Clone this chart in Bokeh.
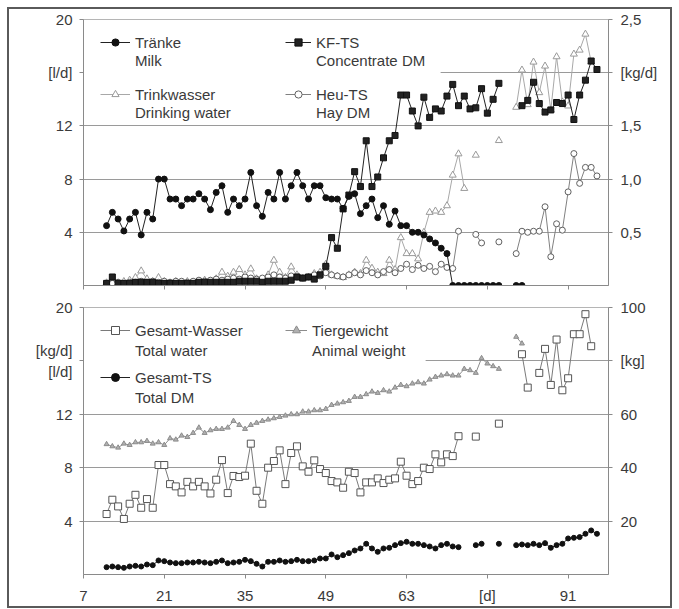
import numpy as np
from bokeh.plotting import figure
from bokeh.models import Range1d, LinearAxis, FixedTicker, Legend, LegendItem, BoxAnnotation
from bokeh.layouts import column
from bokeh.embed import file_html
from bokeh.resources import INLINE

N = None
days = list(range(11, 97))

# ---- top panel ----
traenke = [4.5, 5.5, 5.0, 4.1, 5.0, 5.5, 3.8, 5.5, 5.0, 8.0,
           8.0, 6.5, 6.5, 6.0, 6.5, 6.5, 6.9, 6.5, 5.7, 7.0,
           7.5, 5.5, 6.5, 6.0, 6.5, 8.5, 6.0, 5.2, 7.0, 6.5,
           8.5, 6.5, 7.5, 8.5, 7.5, 6.5, 7.5, 7.5, 6.6, 6.5,
           6.5, 5.8, 6.7, 6.9, 5.4, 6.0, 6.5, 5.1, 6.0, 4.6,
           5.6, 4.5, 4.5, 4.0, 4.0, 3.8, 3.5, 3.2, 2.8, 2.4,
           0, 0, 0, 0, 0, 0, 0, 0, 0, N,
           N, 0, 0, N, N, N, N, N, N, N,
           N, N, N, N, N, N]
kf_ts = [0.02, 0.08, 0.02, 0.02, 0.02, 0.03, 0.03, 0.03, 0.03, 0.02,
         0.02, 0.02, 0.02, 0.02, 0.02, 0.02, 0.03, 0.03, 0.03, 0.03,
         0.03, 0.03, 0.03, 0.04, 0.04, 0.04, 0.04, 0.03, 0.04, 0.04,
         0.04, 0.04, 0.05, 0.08, 0.07, 0.08, 0.06, 0.10, 0.18, 0.45,
         0.35, 0.72, 0.85, 1.07, 0.93, 1.36, 0.93, 1.02, 1.20, 1.36,
         1.41, 1.79, 1.79, 1.64, 1.50, 1.77, 1.58, 1.66, 1.64, 1.78,
         1.89, 1.69, 1.78, 1.66, 1.67, 1.85, 1.62, 1.75, 1.90, N,
         N, N, 1.69, 1.74, 1.91, 1.71, 1.63, 1.65, 1.72, 1.71,
         1.79, 1.56, 1.79, 1.93, 2.11, 2.03]
trinkwasser = [0.2, 0.3, 0.2, 0.3, 0.4, 0.6, 1.1, 0.5, 0.3, 0.6,
               0.3, 0.2, 0.3, 0.2, 0.3, 0.2, 0.3, 0.4, 0.3, 0.5,
               1.0, 0.7, 1.0, 1.2, 0.8, 1.25, 0.5, 0.4, 0.8, 1.9,
               1.0, 0.6, 1.4, 0.8, 0.5, 0.6, 0.9, 1.0, 1.6, 0.8,
               0.7, 0.6, 0.8, 1.0, 0.9, 1.9, 1.3, 1.0, 0.9, 1.9,
               1.2, 3.6, 2.4, 2.4, 2.0, 4.0, 5.5, 5.6, 5.5, 6.0,
               8.3, 9.9, 7.3, N, 9.8, N, N, N, 10.9, N,
               N, 13.4, 16.2, 13.6, 16.8, 14.5, 16.5, 13.2, 17.2, 13.8,
               13.5, 17.4, 17.7, 18.9, 16.8, N]
heu_ts = [0.02, 0.02, 0.03, 0.02, 0.03, 0.03, 0.04, 0.03, 0.04, 0.03,
          0.04, 0.03, 0.04, 0.04, 0.03, 0.04, 0.05, 0.04, 0.05, 0.06,
          0.05, 0.06, 0.07, 0.06, 0.08, 0.07, 0.06, 0.07, 0.08, 0.10,
          0.08, 0.07, 0.09, 0.08, 0.07, 0.08, 0.10, 0.09, 0.12, 0.10,
          0.09, 0.08, 0.10, 0.12, 0.10, 0.14, 0.12, 0.10, 0.13, 0.15,
          0.12, 0.16, 0.20, 0.15, 0.19, 0.16, 0.18, 0.13, 0.20, 0.17,
          0.16, 0.51, N, N, 0.48, 0.40, N, N, 0.41, N,
          N, 0.30, 0.51, 0.50, 0.51, 0.51, 0.74, 0.27, 0.58, 0.52,
          0.88, 1.24, 0.96, 1.11, 1.11, 1.03]

# ---- bottom panel ----
gesamt_wasser = [4.53, 5.6, 5.1, 4.16, 5.3, 5.97, 5.0, 5.65, 5.0, 8.2,
                 8.2, 6.77, 6.6, 6.15, 6.94, 6.6, 6.94, 6.6, 6.07, 7.1,
                 8.57, 6.1, 7.38, 7.3, 7.4, 9.8, 6.27, 5.3, 8.0, 8.5,
                 9.3, 6.77, 9.1, 9.6, 8.1, 7.7, 8.55, 7.9, 7.6, 7.0,
                 6.9, 6.5, 7.7, 7.6, 6.15, 6.9, 6.9, 7.2, 6.85, 7.1,
                 7.2, 8.45, 7.4, 6.77, 7.0, 8.0, 7.9, 9.0, 8.4, 9.0,
                 8.87, 10.36, N, N, 10.33, N, N, N, 11.3, N,
                 N, N, 16.5, 14.0, N, 15.1, 16.9, 14.2, 17.6, 13.8,
                 14.7, 18.0, 18.0, 19.5, 17.1, N]
tiergewicht = [48.8, 48.0, 47.5, 49.0, 48.5, 49.5, 49.5, 50.0, 49.0, 49.5,
               48.5, 51.0, 50.5, 52.0, 51.5, 53.0, 55.0, 53.0, 54.0, 54.5,
               54.5, 55.0, 57.5, 56.0, 54.5, 56.0, 56.8, 57.5, 58.0, 58.5,
               59.0, 59.5, 60.0, 60.0, 61.0, 61.0, 61.5, 61.5, 62.0, 63.5,
               64.0, 64.5, 65.0, 66.5, 66.5, 67.5, 68.5, 68.0, 69.0, 68.5,
               70.0, 71.0, 70.5, 71.5, 72.0, 71.5, 73.0, 74.0, 74.5, 75.0,
               74.5, 74.5, 77.0, 76.5, 75.5, 81.0, 79.0, 78.0, 77.0, N,
               N, 89.0, 86.5, N, N, N, N, N, N, N,
               N, N, N, N, N, N]
gesamt_ts = [0.55, 0.6, 0.55, 0.5, 0.6, 0.65, 0.6, 0.75, 0.7, 1.05,
             1.0, 0.9, 0.85, 0.85, 0.9, 0.9, 0.95, 0.9, 0.85, 0.95,
             1.05, 0.85, 0.9, 0.95, 1.1, 1.0, 0.8, 0.6, 0.95, 0.95,
             1.05, 0.95, 1.0, 1.1, 1.0, 1.0, 1.05, 1.2, 1.2, 1.5,
             1.3, 1.45, 1.6, 1.8, 1.95, 2.3, 1.95, 1.7, 1.95, 2.0,
             2.2, 2.35, 2.45, 2.3, 2.3, 2.2, 2.1, 1.95, 2.2, 2.3,
             2.1, 2.05, N, N, 2.2, 2.3, N, N, 2.3, N,
             N, 2.2, 2.25, 2.2, 2.3, 2.2, 2.35, 2.0, 2.2, 2.3,
             2.7, 2.75, 2.8, 3.05, 3.3, 3.05]

x_ticks = [7, 21, 35, 49, 63, 77, 91]
x_labels = {77: "[d]"}
top_left_ticks = [4, 8, 12, 16, 20]
top_left_labels = {16: "[l/d]"}
top_right_ticks = [0.5, 1.0, 1.5, 2.0, 2.5]
top_right_labels = {0.5: "0,5", 1.0: "1,0", 1.5: "1,5", 2.0: "[kg/d]", 2.5: "2,5"}
bot_left_labels = {16: "[kg/d]\n[l/d]"}
bot_right_ticks = [20, 40, 60, 80, 100]
bot_right_labels = {80: "[kg]"}


def arr(v):
    return np.array([np.nan if x is None else x for x in v], dtype=float)


FONT = "Liberation Sans"
TXT = "#3a3a3a"
AX = "#8a8a8a"


def style_axis(ax):
    ax.axis_line_color = AX
    ax.major_tick_line_color = AX
    ax.minor_tick_line_color = None
    ax.major_tick_in = 0
    ax.major_tick_out = 4
    ax.major_label_text_font = FONT
    ax.major_label_text_font_size = "15px"
    ax.major_label_text_color = TXT


def make_fig(height, mb_top, mb_bottom, right_range):
    p = figure(width=661, height=height, x_range=Range1d(7, 98), y_range=Range1d(0, 20),
               output_backend="svg", toolbar_location=None,
               min_border_left=74, min_border_right=62,
               min_border_top=mb_top, min_border_bottom=mb_bottom)
    p.extra_y_ranges = {"r": right_range}
    p.add_layout(LinearAxis(y_range_name="r"), "right")
    p.xgrid.grid_line_color = None
    p.ygrid.ticker = FixedTicker(ticks=[4, 8, 12, 16])
    p.ygrid.grid_line_color = "#9a9a9a"
    p.outline_line_color = "#b5b5b5"
    p.xaxis.ticker = FixedTicker(ticks=x_ticks)
    p.xaxis.major_label_overrides = x_labels
    for ax in p.xaxis + p.yaxis:
        style_axis(ax)
    p.xaxis.major_label_standoff = 8
    p.yaxis[0].major_label_standoff = 7
    p.yaxis[1].major_label_standoff = 8
    return p


def entry(glyph_label, second_line, renderers, loc, pitch, gw):
    lg = Legend(items=[LegendItem(label=glyph_label, renderers=renderers),
                       LegendItem(label=second_line, renderers=[])], location=loc)
    lg.label_text_font = FONT
    lg.label_text_font_size = "15px"
    lg.label_text_color = TXT
    lg.glyph_width = gw
    lg.glyph_height = pitch
    lg.label_height = pitch
    lg.label_standoff = 5
    lg.spacing = 0
    lg.padding = 0
    lg.margin = 0
    lg.border_line_color = None
    lg.background_fill_alpha = 0
    return lg


# ---------------- top ----------------
p1 = make_fig(288, 10, 12, Range1d(0, 2.5))
p1.xaxis.major_label_overrides = {t: "" for t in x_ticks}
p1.xaxis.major_label_standoff = 0
p1.yaxis[0].ticker = FixedTicker(ticks=top_left_ticks)
p1.yaxis[0].major_label_overrides = top_left_labels
p1.yaxis[1].ticker = FixedTicker(ticks=top_right_ticks)
p1.yaxis[1].major_label_overrides = top_right_labels

l_tw = p1.line(days, arr(trinkwasser), line_color="#a8a8a8", line_width=1)
s_tw = p1.scatter(days, arr(trinkwasser), marker="triangle", size=7, fill_color="white",
                  line_color="#9a9a9a")
l_heu = p1.line(days, arr(heu_ts), y_range_name="r", line_color="#808080", line_width=1)
s_heu = p1.scatter(days, arr(heu_ts), y_range_name="r", marker="circle", size=6,
                   fill_color="white", line_color="#606060")
l_kf = p1.line(days, arr(kf_ts), y_range_name="r", line_color="#222222", line_width=1)
s_kf = p1.scatter(days, arr(kf_ts), y_range_name="r", marker="square", size=6,
                  fill_color="#222222", line_color="#111111")
l_tr = p1.line(days, arr(traenke), line_color="#222222", line_width=1)
s_tr = p1.scatter(days, arr(traenke), marker="circle", size=6, fill_color="#111111",
                  line_color="#111111")

# white panel behind the legend hides the 16-gridline there, as in the original
p1.add_layout(BoxAnnotation(left=7.05, right=68.9, bottom=15.3, top=19.95, level="underlay",
                            fill_color="white", fill_alpha=1, line_color=None))
p1.add_layout(entry("Tränke", "Milk", [l_tr, s_tr], (17, 216), 18, 30), "center")
p1.add_layout(entry("Trinkwasser", "Drinking water", [l_tw, s_tw], (17, 164), 18, 30), "center")
p1.add_layout(entry("KF-TS", "Concentrate DM", [l_kf, s_kf], (202, 216), 18, 26), "center")
p1.add_layout(entry("Heu-TS", "Hay DM", [l_heu, s_heu], (202, 164), 18, 26), "center")

# ---------------- bottom ----------------
p2 = make_fig(309, 10, 30, Range1d(0, 100))
p2.yaxis[0].ticker = FixedTicker(ticks=top_left_ticks)
p2.yaxis[0].major_label_overrides = bot_left_labels
p2.yaxis[1].ticker = FixedTicker(ticks=bot_right_ticks)
p2.yaxis[1].major_label_overrides = bot_right_labels

l_tg = p2.line(days, arr(tiergewicht), y_range_name="r", line_color="#8c8c8c", line_width=1)
s_tg = p2.scatter(days, arr(tiergewicht), y_range_name="r", marker="triangle", size=5,
                  fill_color="#b0b0b0", line_color="#8c8c8c")
l_gw = p2.line(days, arr(gesamt_wasser), line_color="#7a7a7a", line_width=1)
s_gw = p2.scatter(days, arr(gesamt_wasser), marker="square", size=7, fill_color="white",
                  line_color="#555555")
l_gt = p2.line(days, arr(gesamt_ts), line_color="#222222", line_width=1)
s_gt = p2.scatter(days, arr(gesamt_ts), marker="circle", size=5, fill_color="#111111",
                  line_color="#111111")

p2.add_layout(BoxAnnotation(left=7.05, right=66.3, bottom=15, top=19.95, level="underlay",
                            fill_color="white", fill_alpha=1, line_color=None))
p2.add_layout(entry("Gesamt-Wasser", "Total water", [l_gw, s_gw], (17, 214), 20, 30), "center")
p2.add_layout(entry("Gesamt-TS", "Total DM", [l_gt, s_gt], (17, 167), 20, 30), "center")
p2.add_layout(entry("Tiergewicht", "Animal weight", [l_tg, s_tg], (202, 214), 20, 22), "center")

layout = column(p1, p2, styles={"border": "2px solid #5a5a5a", "margin-left": "7px",
                                "margin-top": "7px"})
open("out.html", "w").write(file_html(layout, INLINE))
